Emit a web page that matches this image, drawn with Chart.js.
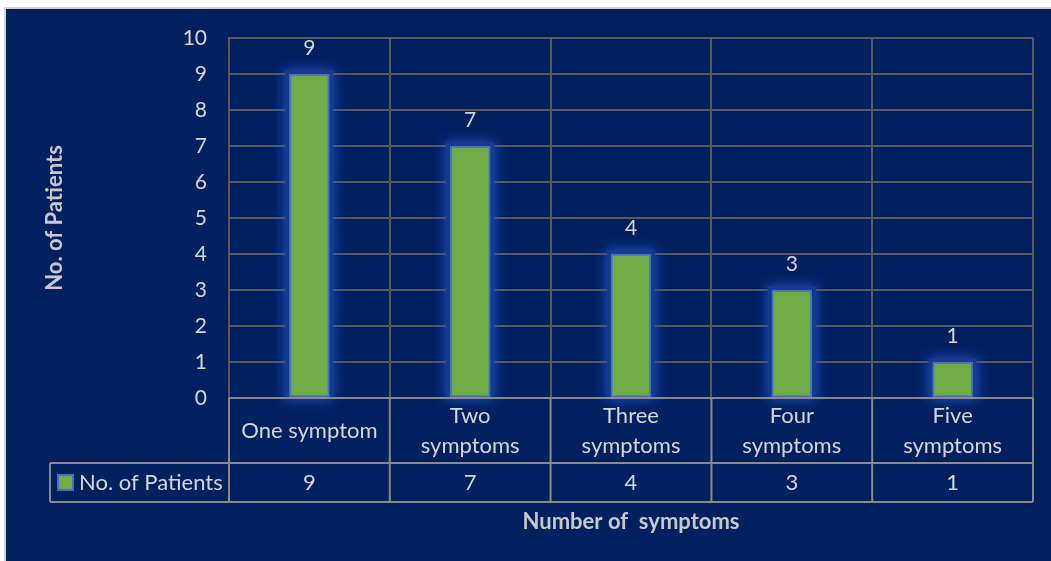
<!DOCTYPE html>
<html>
<head>
<meta charset="utf-8">
<script src="https://cdn.jsdelivr.net/npm/chart.js@4"></script>
<style>
  html, body { margin: 0; padding: 0; background: #ffffff; }
  #wrap { width: 1051px; height: 561px; }
</style>
</head>
<body>
<div id="wrap"><canvas id="symptomChart" width="1051" height="561"></canvas></div>
<script>
// --- chart data ---
const categories = [["One symptom"], ["Two", "symptoms"], ["Three", "symptoms"], ["Four", "symptoms"], ["Five", "symptoms"]];
const patients = [9, 7, 4, 3, 1];
const seriesName = "No. of Patients";
const xTitle = "Number of  symptoms";
const yTitle = "No. of Patients";
const yMin = 0;
const yMax = 10;
const yStep = 1;

const NAVY = "#002060";
const TEXT = "#d6d6d6";
const TITLE = "#c8c8c8";
const GRID = "#595959";
const TABLE_LINE = "#8a8a8a";
const GREEN = "#70ad47";
const BLUE = "#4472c4";
const FONT = "Lato, 'Noto Sans', sans-serif";

// background + white frame round the navy area
const framePlugin = {
    id: "frame",
    beforeDraw(chart) {
        const c = chart.ctx;
        c.save();
        c.fillStyle = "#ffffff";
        c.fillRect(0, 0, chart.width, chart.height);
        c.fillStyle = NAVY;
        c.fillRect(5, 9, chart.width - 5, chart.height - 9);
        c.strokeStyle = "#d4d4d4";
        c.lineWidth = 2;
        c.beginPath();
        c.moveTo(5, chart.height);
        c.lineTo(5, 8);
        c.lineTo(chart.width, 8);
        c.stroke();
        c.restore();
    }
};

// blue glow behind each bar
const glowPlugin = {
    id: "glow",
    beforeDatasetsDraw(chart) {
        const c = chart.ctx;
        const meta = chart.getDatasetMeta(0);
        c.save();
        meta.data.forEach((bar) => {
            const w = bar.width + 8;
            const top = bar.y - 4;
            c.shadowColor = "rgba(40, 90, 210, 0.95)";
            c.shadowBlur = 12;
            c.fillStyle = "#163a8c";
            c.fillRect(bar.x - w / 2, top, w, bar.base - top + 2);
        });
        c.restore();
    }
};

// value labels, axis titles and the data table under the plot
const tablePlugin = {
    id: "dataTable",
    afterDraw(chart) {
        const c = chart.ctx;
        const area = chart.chartArea;
        const xs = chart.scales.x;
        const meta = chart.getDatasetMeta(0);
        const step = xs.getPixelForValue(1) - xs.getPixelForValue(0);
        const rowTop = area.bottom;
        const row1 = rowTop + 65;
        const row2 = row1 + 39;
        const legendLeft = 50;

        c.save();
        c.fillStyle = TEXT;
        c.font = "21px " + FONT;
        c.textAlign = "center";
        c.textBaseline = "middle";

        // labels above bars
        meta.data.forEach((bar, i) => {
            c.fillText(String(patients[i]), bar.x, bar.y - 26);
        });

        // table lines
        c.strokeStyle = TABLE_LINE;
        c.lineWidth = 2;
        c.beginPath();
        c.moveTo(area.left, rowTop); c.lineTo(area.right, rowTop);
        c.moveTo(legendLeft, row1); c.lineTo(area.right, row1);
        c.moveTo(legendLeft, row2); c.lineTo(area.right, row2);
        c.moveTo(legendLeft, row1); c.lineTo(legendLeft, row2);
        for (let i = 0; i <= categories.length; i++) {
            const bx = xs.getPixelForValue(0) - step / 2 + i * step;
            c.moveTo(bx, rowTop); c.lineTo(bx, row2);
        }
        c.stroke();

        // category names and values
        c.font = "22px " + FONT;
        categories.forEach((lines, i) => {
            const cx = xs.getPixelForValue(i);
            const mid = (rowTop + row1) / 2;
            lines.forEach((ln, k) => {
                c.fillText(ln, cx, mid + (k - (lines.length - 1) / 2) * 30);
            });
            c.fillText(String(patients[i]), cx, (row1 + row2) / 2);
        });

        // legend key
        c.fillStyle = GREEN;
        c.fillRect(58, 475, 15, 15);
        c.strokeStyle = BLUE;
        c.lineWidth = 2;
        c.strokeRect(58, 475, 15, 15);
        c.fillStyle = TEXT;
        c.textAlign = "left";
        c.fillText(seriesName, 79, (row1 + row2) / 2);

        // axis titles
        c.fillStyle = TITLE;
        c.font = "bold 22px " + FONT;
        c.textAlign = "center";
        c.fillText(xTitle, (area.left + area.right) / 2, 522);
        c.translate(55, (area.top + area.bottom) / 2);
        c.rotate(-Math.PI / 2);
        c.fillText(yTitle, 0, 0);
        c.restore();
    }
};

const ctx = document.getElementById("symptomChart");
const symptomChart = new Chart(ctx, {
    type: "bar",
    data: {
        labels: categories,
        datasets: [{
            label: seriesName,
            data: patients,
            backgroundColor: GREEN,
            borderColor: BLUE,
            borderWidth: 2,
            barThickness: 40,
            borderSkipped: false
        }]
    },
    options: {
        responsive: false,
        devicePixelRatio: 1,
        animation: false,
        layout: { padding: { left: 169, top: 38, right: 18, bottom: 163 } },
        plugins: {
            legend: { display: false },
            tooltip: { enabled: false }
        },
        scales: {
            x: {
                offset: true,
                ticks: { display: false },
                grid: { color: GRID, lineWidth: 2, offset: true, drawTicks: false },
                border: { display: false },
                afterFit(scale) { scale.height = 0; }
            },
            y: {
                min: yMin,
                max: yMax,
                ticks: {
                    stepSize: yStep,
                    color: TEXT,
                    padding: 22,
                    font: { family: FONT, size: 21 }
                },
                grid: { color: GRID, lineWidth: 2, drawTicks: false },
                border: { color: GRID, width: 2 },
                afterFit(scale) { scale.width = 60; }
            }
        }
    },
    plugins: [framePlugin, glowPlugin, tablePlugin]
});
</script>
</body>
</html>
